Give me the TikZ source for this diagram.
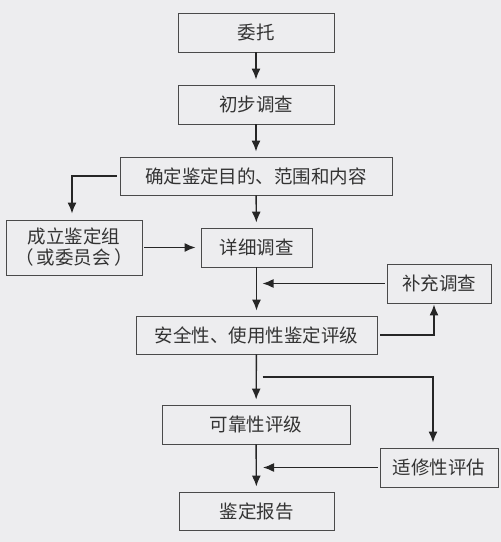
\documentclass[tikz,border=0pt]{standalone}
\usepackage{fontspec}
\usepackage{tikz}
\usetikzlibrary{arrows.meta}
\newfontfamily\cjk{Noto Sans CJK SC}
\definecolor{bgcol}{HTML}{EDEDEF}
\definecolor{boxline}{HTML}{4A4A4A}
\definecolor{txtcol}{HTML}{333333}

\begin{document}
\begin{tikzpicture}[x=1pt,y=-1pt,
        box/.style={draw=boxline,line width=0.9pt,fill=bgcol,text=txtcol,
                inner sep=0pt,align=center,
                font=\cjk\fontsize{18.5}{21}\selectfont},
        arr/.style={-{Latex[length=11pt,width=9pt]},line width=1.4pt,black!85,
                shorten >=5pt}]
                \fill[bgcol] (0,0) rectangle (501,542);
                \useasboundingbox (0,0) rectangle (501,542);
                % main column
                \node[box,minimum width=156pt,minimum height=39pt] (wt) at (256,32.5) {委托};
                \node[box,minimum width=156pt,minimum height=39pt] (cb) at (256,104.5) {初步调查};
                \node[box,minimum width=272pt,minimum height=38pt] (qd) at (256,176) {确定鉴定目的、范围和内容};
                \node[box,minimum width=111pt,minimum height=39pt] (xx) at (256.5,247.5) {详细调查};
                \node[box,minimum width=241pt,minimum height=38pt] (aq) at (256.5,335) {安全性、使用性鉴定评级};
                \node[box,minimum width=188pt,minimum height=39pt] (kk) at (256,424.5) {可靠性评级};
                \node[box,minimum width=155pt,minimum height=38pt] (jd) at (256.5,511) {鉴定报告};
                % side boxes
                \node[box,minimum width=136pt,minimum height=55pt] (cl) at (74,247.5) {成立鉴定组\\（\,或委员会\,）};
                \node[box,minimum width=104pt,minimum height=39pt] (bc) at (439,283.5) {补充调查};
                \node[box,minimum width=118pt,minimum height=39pt] (sx) at (439,467.5) {适修性评估};
                % ends of the side arrows
                \coordinate[xshift=6pt] (m1) at (xx.south |- bc.west);
                \coordinate[xshift=6pt] (m2) at (aq.south |- 0,377);
                \coordinate[xshift=7pt] (m3) at (kk.south |- sx.west);
                \path[arr]
                        (wt) edge (cb)
                        (cb) edge (qd)
                        (qd) edge (xx)
                        (xx) edge (aq)
                        (aq) edge (kk)
                        (kk) edge (jd)
                        (cl) edge[shorten <=2pt] (xx)
                        (bc) edge[shorten <=2pt,shorten >=0pt] (m1)
                        (sx) edge[shorten <=2pt,shorten >=0pt] (m3);
                \draw[arr,shorten <=3pt,shorten >=6pt] (qd.west) -| ([xshift=-2pt]cl.north);
                \draw[arr,shorten <=3pt,shorten >=1pt] (aq.east) -| ([xshift=-5pt]bc.south);
                \draw[arr,shorten >=5pt] (m2) -| ([xshift=-6pt]sx.north);
        \end{tikzpicture}
\end{document}
